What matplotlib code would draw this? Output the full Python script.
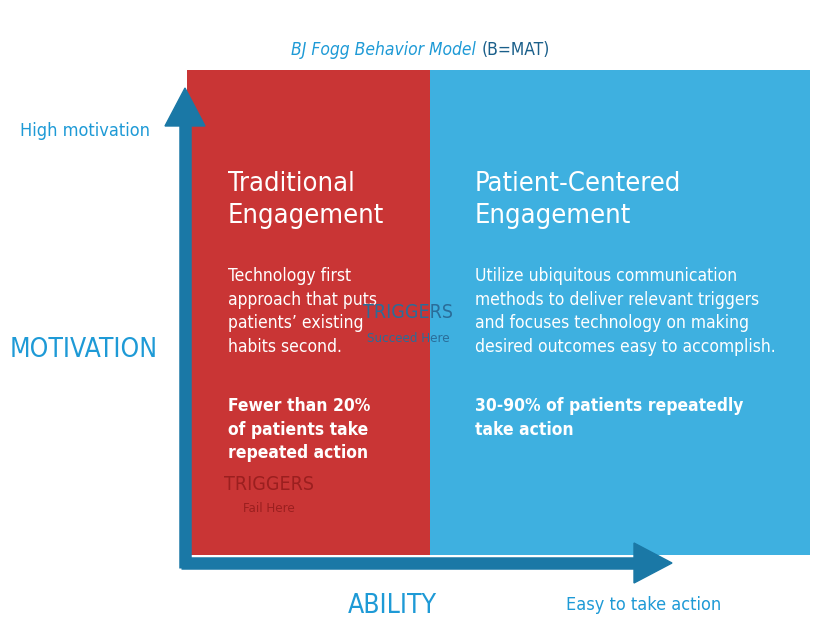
import matplotlib
matplotlib.use("Agg")
import matplotlib.pyplot as plt
from matplotlib.patches import Polygon

plt.rcParams['font.family'] = ['DejaVu Sans']
plt.rcParams['font.stretch'] = 'condensed'

zone_left = [187, 430]
zone_width = [243, 380]
zone_colors = ['#c93535', '#3eb0e0']
zone_titles = ['Traditional\nEngagement', 'Patient-Centered\nEngagement']
zone_body = ['Technology first\napproach that puts\npatients\u2019 existing\nhabits second.',
             'Utilize ubiquitous communication\nmethods to deliver relevant triggers\nand focuses technology on making\ndesired outcomes easy to accomplish.']
zone_stat = ['Fewer than 20%\nof patients take\nrepeated action', '30-90% of patients repeatedly\ntake action']
arrow_c = '#1a78a6'
lab_c = '#1e9ad6'

fig = plt.figure(figsize=(8.2, 6.33), dpi=100)
ax = fig.add_axes([0, 0, 1, 1])
ax.set_xlim(0, 820); ax.set_ylim(633, 0); ax.axis('off')

ax.bar(zone_left, [485, 485], width=zone_width, bottom=70, align='edge', color=zone_colors)

for i, x in enumerate(zone_left):
    tx = x + 41 if i == 0 else x + 45
    ax.text(tx, 171, zone_titles[i], color='white', fontsize=19.5, va='top', linespacing=1.3, stretch='condensed')
    ax.text(tx, 267, zone_body[i], color='white', fontsize=12.5, va='top', linespacing=1.4, stretch='condensed')
    ax.text(tx, 397, zone_stat[i], color='white', fontsize=12.5, va='top', fontweight='bold', linespacing=1.4, stretch='condensed')

ax.text(408, 313, 'TRIGGERS', color='#2a6d99', fontsize=14, ha='center', va='center', stretch='condensed')
ax.text(408, 338, 'Succeed Here', color='#2a6d99', fontsize=9.5, ha='center', va='center', stretch='condensed')
ax.text(269, 484, 'TRIGGERS', color='#9b1f1f', fontsize=14, ha='center', va='center', stretch='condensed')
ax.text(269, 508, 'Fail Here', color='#9b1f1f', fontsize=9.5, ha='center', va='center', stretch='condensed')

# arrows
ax.plot([185, 185], [568, 115], color=arrow_c, lw=9, solid_capstyle='butt')
ax.add_patch(Polygon([[165, 126], [205, 126], [185, 88]], color=arrow_c))
ax.plot([181, 636], [563, 563], color=arrow_c, lw=9, solid_capstyle='butt')
ax.add_patch(Polygon([[634, 543], [634, 583], [672, 563]], color=arrow_c))

ax.text(476, 50, 'BJ Fogg Behavior Model', color=lab_c, fontsize=12.5, style='italic', ha='right', va='center', stretch='condensed')
ax.text(482, 50, '(B=MAT)', color='#1a5f8a', fontsize=12.5, ha='left', va='center', stretch='condensed')
ax.text(20, 131, 'High motivation', color=lab_c, fontsize=13, va='center', stretch='condensed')
ax.text(10, 350, 'MOTIVATION', color=lab_c, fontsize=19, va='center', stretch='condensed')
ax.text(392, 606, 'ABILITY', color=lab_c, fontsize=19, ha='center', va='center', stretch='condensed')
ax.text(644, 605, 'Easy to take action', color=lab_c, fontsize=13, ha='center', va='center', stretch='condensed')

fig.savefig('out.png', dpi=100)
